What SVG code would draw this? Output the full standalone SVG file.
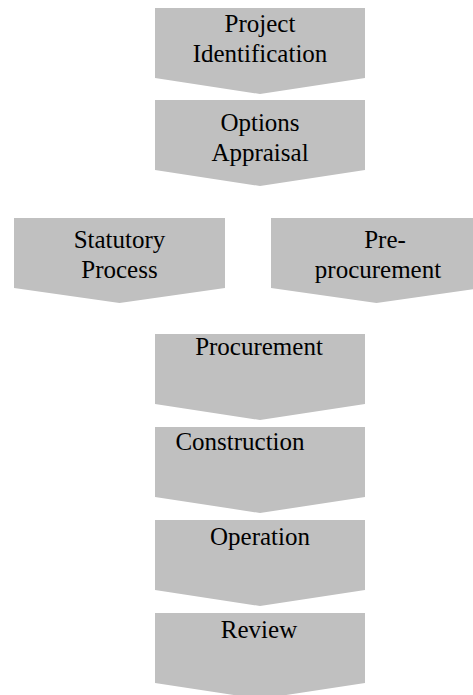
<svg xmlns="http://www.w3.org/2000/svg" width="473" height="695" viewBox="0 0 473 695">
  <style>
    .step { fill: #c0c0c0; stroke: none; }
    .label { font-family: "Liberation Serif", Tinos, "Times New Roman", "DejaVu Serif", serif; font-size: 25px; fill: #000; text-anchor: middle; }
  </style>
  <rect width="473" height="695" fill="#ffffff"/>

  <!-- main stage chevrons -->
  <g id="project-identification">
    <polygon class="step" points="155,8 365,8 365,78 260,94 155,78"/>
    <text class="label" x="260" y="32">Project</text>
    <text class="label" x="260" y="62">Identification</text>
  </g>

  <g id="options-appraisal">
    <polygon class="step" points="155,100 365,100 365,170 260,186 155,170"/>
    <text class="label" x="260" y="131">Options</text>
    <text class="label" x="260" y="161">Appraisal</text>
  </g>

  <!-- parallel stages -->
  <g id="statutory-process">
    <polygon class="step" points="14,218 225,218 225,288 119.5,303 14,288"/>
    <text class="label" x="119.5" y="248">Statutory</text>
    <text class="label" x="119.5" y="278">Process</text>
  </g>

  <g id="pre-procurement">
    <polygon class="step" points="271,218 482,218 482,288 376.5,303 271,288"/>
    <text class="label" x="385" y="248">Pre-</text>
    <text class="label" x="378" y="278">procurement</text>
  </g>

  <!-- delivery stages -->
  <g id="procurement">
    <polygon class="step" points="155,334 365,334 365,404 260,420 155,404"/>
    <text class="label" x="259" y="355">Procurement</text>
  </g>

  <g id="construction">
    <polygon class="step" points="155,427 365,427 365,497 260,513 155,497"/>
    <text class="label" x="240" y="450">Construction</text>
  </g>

  <g id="operation">
    <polygon class="step" points="155,520 365,520 365,590 260,606 155,590"/>
    <text class="label" x="260" y="545">Operation</text>
  </g>

  <g id="review">
    <polygon class="step" points="155,613 365,613 365,683 260,699 155,683"/>
    <text class="label" x="259" y="638">Review</text>
  </g>
</svg>
